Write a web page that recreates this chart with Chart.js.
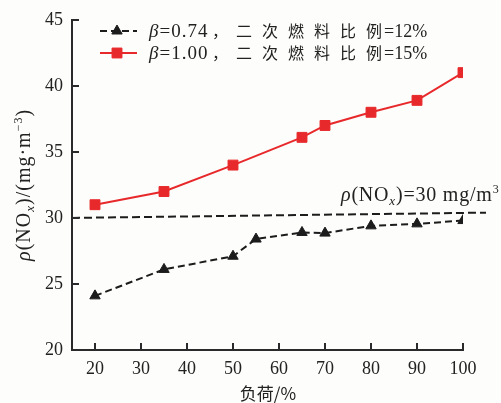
<!DOCTYPE html>
<html>
<head>
<meta charset="utf-8">
<script src="https://cdn.jsdelivr.net/npm/chart.js@4.4.0/dist/chart.umd.min.js"></script>
<style>
  html, body { margin: 0; padding: 0; background: #fdfdfb; }
  #wrap { width: 501px; height: 403px; }
</style>
</head>
<body>
<div id="wrap"><canvas id="noxChart"></canvas></div>
<script>
const SERIF = '"Liberation Serif", "Times New Roman", serif';
const CJK = '"Noto Sans CJK SC", sans-serif';

// 负荷 (%) vs NOx mass concentration (mg/m3)
const loadLow = [20, 35, 50, 55, 65, 70, 80, 90, 100];
const noxLow = [24.1, 26.1, 27.1, 28.4, 28.9, 28.85, 29.4, 29.55, 29.8];
const loadHigh = [20, 35, 50, 65, 70, 80, 90, 100];
const noxHigh = [31.0, 32.0, 34.0, 36.1, 37.0, 38.0, 38.9, 41.0];
// 30 mg/m3 limit line, printed slightly sloped
const limitLoad = [15, 105];
const limitNox = [30, 30.4];

const xTicks = [20, 30, 40, 50, 60, 70, 80, 90, 100];
const yTicks = [20, 25, 30, 35, 40, 45];

const RED = '#e8292b';
const BLACK = '#1c1c1c';
const AXIS = '#2a2a2a';

const toXY = (xs, ys) => xs.map((x, i) => ({ x: x, y: ys[i] }));

// draw a run of text pieces: [text, font, dy]
function drawRuns(ctx, runs, x, y) {
  let cx = x;
  for (const [t, f, dy] of runs) {
    ctx.font = f;
    ctx.fillText(t, cx, y + (dy || 0));
    cx += ctx.measureText(t).width;
  }
  return cx;
}
function runsWidth(ctx, runs) {
  let w = 0;
  for (const [t, f] of runs) { ctx.font = f; w += ctx.measureText(t).width; }
  return w;
}

const f20 = '20px ' + SERIF;
const i20 = 'italic 20px ' + SERIF;
const i13 = 'italic 13px ' + SERIF;
const n12 = '12px ' + SERIF;
const f19 = '19px ' + SERIF;
const i19 = 'italic 19px ' + SERIF;

const decor = {
  id: 'decor',
  afterDraw(chart) {
    const ctx = chart.ctx;
    const xs = chart.scales.x, ys = chart.scales.y;
    const area = chart.chartArea;
    ctx.save();
    ctx.strokeStyle = AXIS;
    ctx.lineWidth = 2;

    // inward tick marks
    ctx.beginPath();
    xTicks.forEach(v => {
      const px = Math.round(xs.getPixelForValue(v));
      ctx.moveTo(px, area.bottom);
      ctx.lineTo(px, area.bottom - 7);
    });
    yTicks.forEach(v => {
      const py = Math.round(ys.getPixelForValue(v));
      ctx.moveTo(area.left, py);
      ctx.lineTo(area.left + 7, py);
    });
    ctx.stroke();

    ctx.fillStyle = '#222';
    ctx.textBaseline = 'alphabetic';
    ctx.textAlign = 'left';

    // y axis title
    const yRuns = [['ρ', i20], ['(NO', f20], ['x', i13, 4], [')/(mg·m', f20], ['−3', n12, -8], [')', f20]];
    ctx.save();
    ctx.letterSpacing = '1px';
    ctx.translate(30, (area.top + area.bottom) / 2);
    ctx.rotate(-Math.PI / 2);
    drawRuns(ctx, yRuns, -runsWidth(ctx, yRuns) / 2, 0);
    ctx.restore();

    // x axis title
    ctx.font = '17px ' + CJK;
    ctx.textAlign = 'center';
    ctx.textBaseline = 'middle';
    ctx.fillText('负荷/%', 268, 394);
    ctx.textAlign = 'left';
    ctx.textBaseline = 'alphabetic';

    // limit label
    const lRuns = [['ρ', i20], ['(NO', f20], ['x', i13, 4], [')=30 mg/m', f20], ['3', n12, -8]];
    ctx.letterSpacing = '0.8px';
    drawRuns(ctx, lRuns, 341, 201);
    ctx.letterSpacing = '0px';

    // legend
    ctx.textBaseline = 'middle';
    const rows = [
      { ds: chart.data.datasets[0], beta: '=0.74', pct: '=12%', y: 31 },
      { ds: chart.data.datasets[1], beta: '=1.00', pct: '=15%', y: 53 }
    ];
    rows.forEach(r => {
      const ds = r.ds;
      ctx.save();
      ctx.strokeStyle = ds.borderColor;
      ctx.lineWidth = ds.borderWidth;
      ctx.setLineDash(ds.borderDash || []);
      ctx.beginPath();
      ctx.moveTo(100, r.y);
      ctx.lineTo(137, r.y);
      ctx.stroke();
      ctx.setLineDash([]);
      ctx.fillStyle = ds.pointBackgroundColor;
      ctx.strokeStyle = ds.pointBorderColor;
      ctx.lineWidth = 1;
      Chart.helpers.drawPoint(ctx, { pointStyle: ds.pointStyle, radius: ds.pointRadius, rotation: 0, borderWidth: 1 }, 117, r.y);
      ctx.restore();

      ctx.fillStyle = '#222';
      ctx.letterSpacing = '1px';
      drawRuns(ctx, [['β', i19], [r.beta, f19]], 149, r.y + 1);
      ctx.letterSpacing = '0px';
      ctx.font = '16px ' + CJK;
      ctx.fillText('，', 212, r.y);
      Array.from('二次燃料比例').forEach((ch, i) => ctx.fillText(ch, 236 + i * 26, r.y));
      drawRuns(ctx, [[r.pct, '18px ' + SERIF]], 384, r.y + 1);
    });
    ctx.restore();
  }
};

new Chart(document.getElementById('noxChart'), {
  type: 'scatter',
  data: {
    datasets: [
      {
        label: 'β=0.74，二次燃料比例=12%',
        data: toXY(loadLow, noxLow),
        showLine: true,
        borderColor: BLACK,
        borderWidth: 2,
        borderDash: [7, 4],
        pointStyle: 'triangle',
        pointRadius: 6,
        pointBackgroundColor: BLACK,
        pointBorderColor: BLACK,
        pointBorderWidth: 1
      },
      {
        label: 'β=1.00，二次燃料比例=15%',
        data: toXY(loadHigh, noxHigh),
        showLine: true,
        borderColor: RED,
        borderWidth: 2,
        pointStyle: 'rect',
        pointRadius: 7,
        pointBackgroundColor: RED,
        pointBorderColor: RED,
        pointBorderWidth: 1
      },
      {
        label: 'limit',
        data: toXY(limitLoad, limitNox),
        showLine: true,
        clip: false,
        borderColor: BLACK,
        borderWidth: 2,
        borderDash: [8, 4],
        pointRadius: 0
      }
    ]
  },
  options: {
    responsive: true,
    maintainAspectRatio: false,
    animation: false,
    layout: { padding: { top: 16, right: 38, left: 0, bottom: 0 } },
    plugins: { legend: { display: false }, tooltip: { enabled: false } },
    scales: {
      x: {
        type: 'linear',
        min: 15,
        max: 100,
        afterBuildTicks: s => { s.ticks = xTicks.map(v => ({ value: v })); },
        afterFit: s => { s.height = 53; },
        grid: { display: false, drawTicks: false },
        border: { display: true, color: AXIS, width: 2 },
        ticks: { color: '#222', font: { family: SERIF, size: 18 }, padding: 8 }
      },
      y: {
        min: 20,
        max: 45,
        afterBuildTicks: s => { s.ticks = yTicks.map(v => ({ value: v })); },
        afterFit: s => { s.width = 72; },
        grid: { display: false, drawTicks: false },
        border: { display: true, color: AXIS, width: 2 },
        ticks: { color: '#222', font: { family: SERIF, size: 18 }, padding: 9 }
      }
    }
  },
  plugins: [decor]
});
</script>
</body>
</html>
